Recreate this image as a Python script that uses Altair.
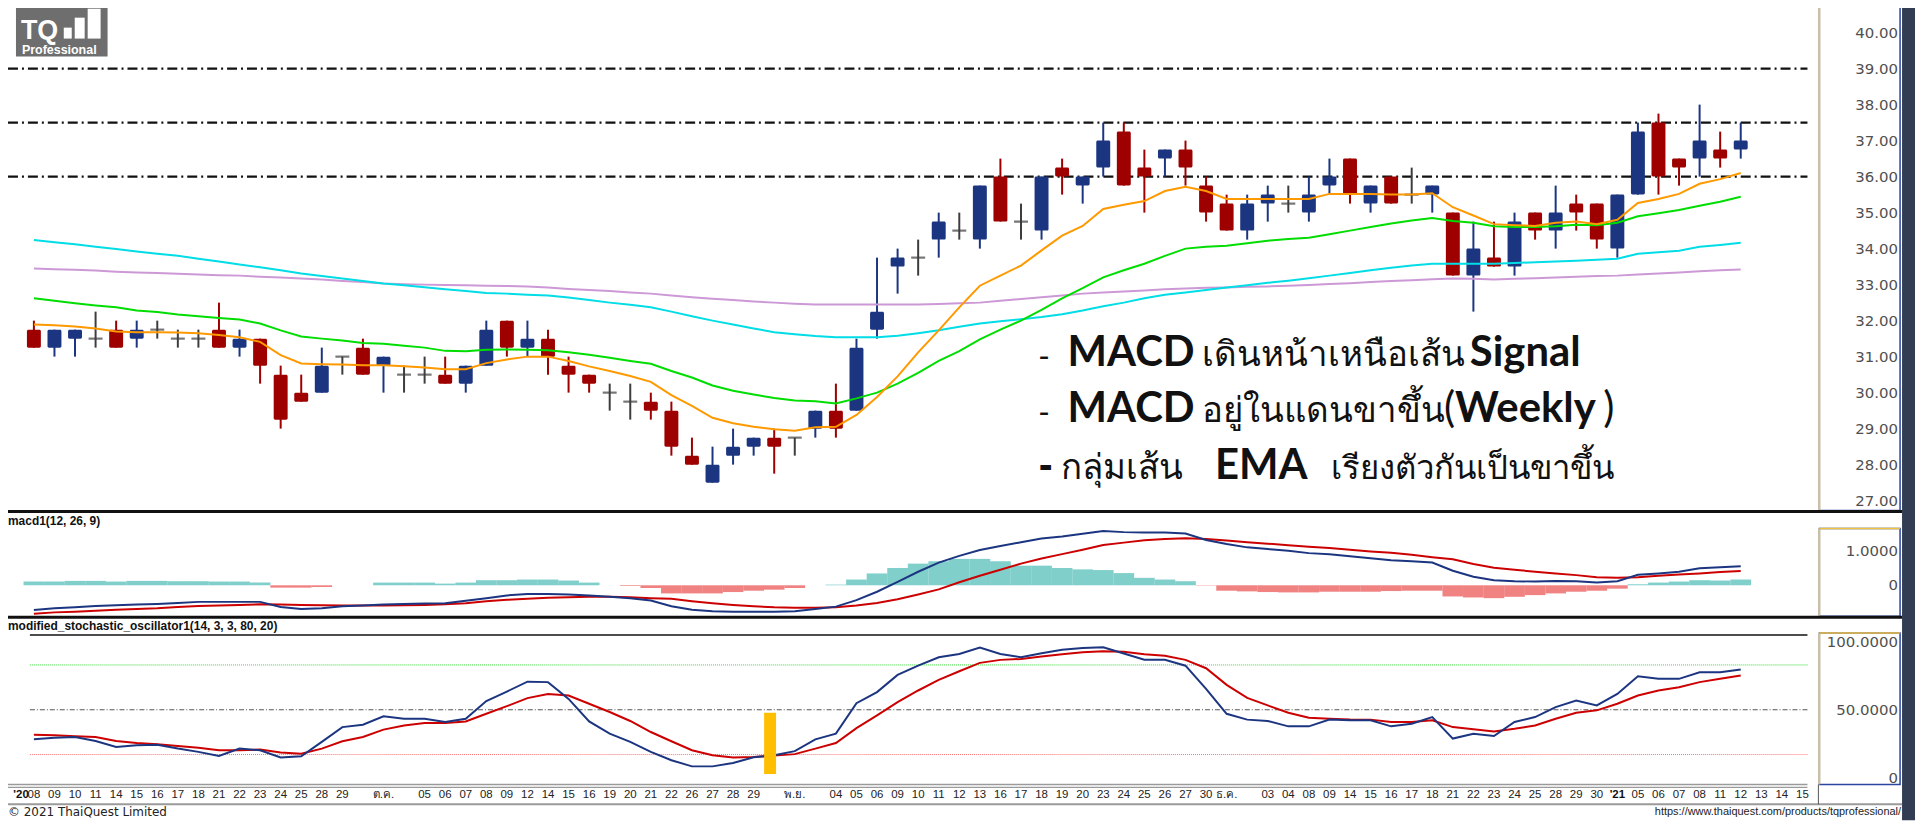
import altair as alt
import pandas as pd

# ---------------- data ----------------
OPEN = [31.75, 31.25, 31.5, 31.5, 31.75, 31.5, 31.75, 31.5, 31.5, 31.75, 31.25, 31.5, 30.5, 30.0, 30.0, 31.0,
        31.25, 30.75, 30.5, 30.5, 30.5, 30.25, 30.75, 32.0, 31.25, 31.5, 30.75, 30.5, 30.0, 29.75, 29.75, 29.5,
        28.25, 27.5, 28.25, 28.5, 28.75, 28.75, 29.0, 29.5, 29.5, 31.75, 33.5, 33.75, 34.25, 34.5, 34.25, 36.0,
        34.75, 34.5, 36.25, 35.75, 36.25, 37.25, 36.25, 36.5, 36.75, 35.75, 35.25, 34.5, 35.25, 35.25, 35.0, 35.75,
        36.5, 35.25, 36.0, 35.5, 35.5, 35.0, 33.25, 33.75, 33.5, 35.0, 34.5, 35.25, 35.25, 34.0, 35.5, 37.5,
        36.5, 36.5, 36.75, 36.75]
HIGH = [32.0, 31.75, 31.75, 32.25, 32.0, 32.0, 32.0, 31.75, 31.75, 32.5, 31.75, 31.5, 30.75, 30.5, 31.25, 31.0,
        31.5, 31.0, 30.75, 31.0, 31.0, 30.75, 32.0, 32.0, 32.0, 31.75, 31.0, 30.5, 30.25, 30.25, 30.0, 29.75,
        28.75, 28.5, 29.0, 28.75, 29.0, 28.75, 29.5, 30.25, 31.5, 33.75, 34.0, 34.25, 35.0, 35.0, 35.75, 36.5,
        35.25, 36.0, 36.5, 36.0, 37.5, 37.5, 36.75, 36.75, 37.0, 36.0, 35.5, 35.5, 35.75, 35.75, 36.0, 36.5,
        36.5, 35.75, 36.0, 36.25, 35.75, 35.0, 34.75, 34.75, 35.0, 35.0, 35.75, 35.5, 35.25, 35.5, 37.5, 37.75,
        36.5, 38.0, 37.25, 37.5]
LOW = [31.25, 31.0, 31.0, 31.25, 31.25, 31.25, 31.5, 31.25, 31.25, 31.25, 31.0, 30.25, 29.0, 29.75, 30.0, 30.5,
       30.5, 30.0, 30.0, 30.25, 30.25, 30.0, 30.75, 31.0, 31.0, 30.5, 30.0, 30.0, 29.5, 29.25, 29.25, 28.25,
       28.0, 27.5, 28.0, 28.25, 27.75, 28.25, 28.75, 28.75, 29.5, 31.5, 32.75, 33.25, 33.75, 34.25, 34.0, 34.75,
       34.25, 34.25, 35.5, 35.25, 36.0, 35.75, 35.0, 36.0, 35.75, 34.75, 34.5, 34.25, 34.75, 35.0, 34.75, 35.5,
       35.25, 35.0, 35.25, 35.25, 35.0, 33.25, 32.25, 33.5, 33.25, 34.25, 34.0, 34.5, 34.0, 33.75, 35.5, 35.5,
       35.75, 36.0, 36.25, 36.5]
CLOSE = [31.25, 31.75, 31.75, 31.5, 31.25, 31.75, 31.75, 31.5, 31.5, 31.25, 31.5, 30.75, 29.25, 29.75, 30.75, 31.0,
         30.5, 31.0, 30.5, 30.5, 30.25, 30.75, 31.75, 31.25, 31.5, 31.0, 30.5, 30.25, 30.0, 29.75, 29.5, 28.5,
         28.0, 28.0, 28.5, 28.75, 28.5, 28.75, 29.5, 29.0, 31.25, 32.25, 33.75, 33.75, 34.75, 34.5, 35.75, 34.75,
         34.75, 36.0, 36.0, 36.0, 37.0, 35.75, 36.0, 36.75, 36.25, 35.0, 34.5, 35.25, 35.5, 35.25, 35.5, 36.0,
         35.5, 35.75, 35.25, 35.5, 35.75, 33.25, 34.0, 33.5, 34.75, 34.5, 35.0, 35.0, 34.25, 35.5, 37.25, 36.0,
         36.25, 37.0, 36.5, 37.0]

EMA_FAST = [31.89, 31.87, 31.84, 31.78, 31.70, 31.68, 31.68, 31.67, 31.65, 31.60, 31.54, 31.41, 31.04, 30.81,
            30.79, 30.78, 30.76, 30.76, 30.73, 30.70, 30.65, 30.65, 30.82, 30.92, 31.0, 31.0, 30.88, 30.73, 30.6,
            30.46, 30.3, 29.93, 29.63, 29.3, 29.15, 29.05, 28.98, 28.94, 29.04, 29.05, 29.38, 29.88, 30.45, 31.12,
            31.73, 32.37, 32.97, 33.25, 33.53, 33.95, 34.36, 34.63, 35.10, 35.22, 35.32, 35.60, 35.72, 35.60,
            35.38, 35.38, 35.38, 35.38, 35.38, 35.52, 35.52, 35.52, 35.50, 35.50, 35.54, 35.15, 34.92, 34.68,
            34.65, 34.63, 34.72, 34.75, 34.68, 34.80, 35.27, 35.38, 35.52, 35.80, 35.93, 36.10]
EMA_MID = [32.62, 32.55, 32.48, 32.42, 32.37, 32.28, 32.24, 32.17, 32.12, 32.07, 32.03, 31.92, 31.73, 31.56, 31.5,
           31.45, 31.38, 31.36, 31.3, 31.25, 31.16, 31.15, 31.19, 31.2, 31.19, 31.18, 31.12, 31.05, 30.97, 30.88,
           30.8, 30.6, 30.42, 30.2, 30.05, 29.95, 29.85, 29.78, 29.76, 29.7, 29.84, 30.0, 30.25, 30.55, 30.88,
           31.15, 31.48, 31.75, 32.0, 32.3, 32.62, 32.9, 33.2, 33.4, 33.58, 33.8, 34.0, 34.05, 34.08, 34.15, 34.22,
           34.27, 34.3, 34.4, 34.5, 34.6, 34.7, 34.78, 34.85, 34.77, 34.72, 34.62, 34.6, 34.6, 34.62, 34.66, 34.65,
           34.72, 34.9, 34.98, 35.07, 35.19, 35.3, 35.44]
EMA_SLOW = [34.24, 34.18, 34.12, 34.05, 33.99, 33.92, 33.86, 33.80, 33.72, 33.64, 33.56, 33.48, 33.40, 33.31,
            33.24, 33.17, 33.10, 33.03, 32.98, 32.93, 32.87, 32.82, 32.77, 32.75, 32.72, 32.70, 32.64, 32.57,
            32.50, 32.44, 32.37, 32.25, 32.12, 32.00, 31.89, 31.78, 31.68, 31.62, 31.57, 31.54, 31.54, 31.54,
            31.58, 31.65, 31.73, 31.83, 31.92, 31.98, 32.04, 32.10, 32.18, 32.28, 32.40, 32.50, 32.62, 32.72,
            32.78, 32.85, 32.92, 32.98, 33.05, 33.11, 33.18, 33.25, 33.32, 33.40, 33.47, 33.53, 33.58, 33.58,
            33.58, 33.58, 33.60, 33.62, 33.64, 33.66, 33.69, 33.72, 33.86, 33.90, 33.94, 34.05, 34.10, 34.16]
EMA_LONG = [33.45, 33.43, 33.41, 33.39, 33.36, 33.34, 33.32, 33.30, 33.28, 33.26, 33.25, 33.22, 33.20, 33.17,
            33.14, 33.10, 33.07, 33.03, 33.01, 33.00, 32.99, 32.98, 32.97, 32.96, 32.95, 32.92, 32.88, 32.85,
            32.82, 32.78, 32.75, 32.70, 32.65, 32.61, 32.57, 32.53, 32.50, 32.47, 32.45, 32.45, 32.45, 32.45,
            32.45, 32.45, 32.46, 32.48, 32.50, 32.55, 32.60, 32.65, 32.70, 32.75, 32.78, 32.81, 32.84, 32.87,
            32.89, 32.91, 32.92, 32.94, 32.95, 32.97, 32.99, 33.02, 33.04, 33.07, 33.10, 33.12, 33.15, 33.17,
            33.16, 33.14, 33.16, 33.18, 33.20, 33.22, 33.24, 33.25, 33.28, 33.31, 33.34, 33.37, 33.40, 33.42]

MACD = [-0.73, -0.68, -0.65, -0.61, -0.59, -0.57, -0.55, -0.52, -0.49, -0.49, -0.49, -0.49, -0.64, -0.70, -0.68,
        -0.62, -0.60, -0.57, -0.55, -0.54, -0.53, -0.46, -0.38, -0.30, -0.26, -0.26, -0.27, -0.30, -0.34, -0.38,
        -0.45, -0.62, -0.72, -0.77, -0.78, -0.78, -0.78, -0.77, -0.70, -0.63, -0.44, -0.19, 0.10, 0.40, 0.67,
        0.87, 1.04, 1.16, 1.27, 1.38, 1.44, 1.52, 1.60, 1.57, 1.56, 1.56, 1.53, 1.34, 1.22, 1.12, 1.07, 1.02,
        0.95, 0.92, 0.86, 0.80, 0.74, 0.71, 0.67, 0.43, 0.25, 0.15, 0.12, 0.11, 0.13, 0.12, 0.08, 0.12, 0.31,
        0.35, 0.40, 0.50, 0.53, 0.56]
SIGNAL = [-0.84, -0.80, -0.78, -0.75, -0.72, -0.70, -0.68, -0.64, -0.61, -0.60, -0.58, -0.56, -0.57, -0.58, -0.59,
          -0.60, -0.60, -0.60, -0.59, -0.58, -0.56, -0.53, -0.47, -0.43, -0.40, -0.37, -0.35, -0.34, -0.34, -0.35,
          -0.38, -0.40, -0.47, -0.53, -0.58, -0.62, -0.65, -0.66, -0.66, -0.65, -0.60, -0.52, -0.41, -0.27, -0.12,
          0.09, 0.28, 0.46, 0.64, 0.79, 0.92, 1.05, 1.19, 1.26, 1.33, 1.37, 1.39, 1.37, 1.32, 1.27, 1.23, 1.18,
          1.14, 1.10, 1.05, 1.00, 0.96, 0.90, 0.83, 0.77, 0.63, 0.52, 0.46, 0.40, 0.35, 0.30, 0.24, 0.22, 0.24,
          0.28, 0.32, 0.35, 0.39, 0.42]
HIST = [0.11, 0.11, 0.13, 0.13, 0.11, 0.13, 0.13, 0.12, 0.12, 0.11, 0.11, 0.08, -0.07, -0.07, -0.05, 0.0, 0.0,
        0.08, 0.08, 0.08, 0.05, 0.08, 0.15, 0.15, 0.17, 0.17, 0.14, 0.08, 0.0, -0.02, -0.08, -0.24, -0.24, -0.24,
        -0.20, -0.16, -0.13, -0.08, 0.0, 0.02, 0.17, 0.35, 0.51, 0.64, 0.71, 0.78, 0.78, 0.71, 0.58, 0.58, 0.51,
        0.47, 0.45, 0.36, 0.22, 0.17, 0.12, -0.01, -0.16, -0.18, -0.20, -0.21, -0.21, -0.19, -0.19, -0.19, -0.17,
        -0.16, -0.16, -0.33, -0.36, -0.38, -0.34, -0.29, -0.24, -0.19, -0.16, -0.10, 0.03, 0.08, 0.11, 0.15,
        0.14, 0.17]

STOCH_K = [30.2, 31.3, 31.8, 29.1, 25.1, 26.2, 26.6, 24.0, 21.8, 19.1, 24.0, 22.9, 18.0, 18.9, 28.5, 38.4, 40.0,
           45.6, 44.0, 44.0, 41.8, 44.0, 55.8, 62.2, 68.8, 68.5, 57.3, 42.2, 34.0, 28.5, 21.8, 16.2, 12.1, 12.1,
           14.4, 18.2, 19.5, 22.3, 30.2, 34.0, 54.4, 61.8, 73.3, 79.5, 85.1, 87.3, 91.6, 87.3, 85.1, 87.9, 90.2,
           91.3, 91.8, 87.7, 83.5, 83.5, 79.5, 64.0, 47.3, 43.4, 42.5, 38.9, 38.9, 43.4, 42.9, 42.9, 38.9, 40.6,
           45.1, 30.7, 34.0, 32.4, 41.8, 45.1, 51.8, 56.2, 52.9, 60.6, 72.4, 70.7, 70.7, 75.1, 75.1, 76.9]
STOCH_D = [33.3, 32.9, 32.2, 31.8, 29.1, 27.7, 26.9, 25.7, 24.6, 22.9, 22.9, 23.4, 21.4, 20.6, 24.0, 28.9, 31.8,
           36.7, 39.5, 41.1, 41.1, 42.2, 47.3, 52.4, 57.8, 60.6, 59.5, 54.0, 48.5, 42.5, 35.1, 28.9, 22.9, 19.5,
           18.0, 18.4, 19.3, 20.3, 24.0, 27.7, 37.7, 46.2, 55.1, 62.9, 70.0, 75.8, 81.4, 83.4, 84.0, 85.6, 87.1,
           88.5, 89.1, 88.9, 87.1, 86.2, 83.4, 77.8, 66.7, 58.0, 52.9, 48.0, 44.7, 44.0, 43.5, 43.4, 41.8, 41.8,
           42.9, 38.4, 36.9, 35.5, 37.3, 39.5, 44.0, 48.0, 49.6, 54.0, 59.5, 62.9, 65.1, 68.5, 70.7, 73.0]

# x-axis labels, one per slot starting at slot -1
SLOT_START = -1
DAY_LABELS = ["'20", "08", "09", "10", "11", "14", "15", "16", "17", "18", "21", "22", "23", "24", "25", "28", "29",
              "", "ต.ค.", "", "05", "06", "07", "08", "09", "12", "14", "15", "16", "19", "20", "21", "22", "26",
              "27", "28", "29", "", "พ.ย.", "", "04", "05", "06", "09", "10", "11", "12", "13", "16", "17", "18",
              "19", "20", "23", "24", "25", "26", "27", "30", "ธ.ค.", "", "03", "04", "08", "09", "14", "15", "16",
              "17", "18", "21", "22", "23", "24", "25", "28", "29", "30", "'21", "05", "06", "07", "08", "11", "12",
              "13", "14", "15"]
BOLD_LABELS = ["'20", "'21"]

PRICE_TICKS = [27.0, 28.0, 29.0, 30.0, 31.0, 32.0, 33.0, 34.0, 35.0, 36.0, 37.0, 38.0, 39.0, 40.0]
PRICE_LEVELS = [39.0, 37.5, 36.0]
MACD_TICKS = [0.0, 1.0]
MACD_TICK_LABELS = ["0", "1.0000"]
STOCH_TICKS = [0, 50, 100]
STOCH_TICK_LABELS = ["0", "50.0000", "100.0000"]
STOCH_LEVELS = [80, 50, 20]
SIGNAL_BAR_POS = [35.8]
SIGNAL_BAR_LOW = [7]
SIGNAL_BAR_HIGH = [48]

# ---------------- styling ----------------
RED = "#9e0000"
BLUE = "#1c3580"
GRAY = "#3d3d3d"
FONT = "Liberation Sans"
AXFONT = "DejaVu Sans"
THAI_FONT = "Lato, 'Noto Sans', sans-serif"

N = len(OPEN)
idx = list(range(N))

XS = alt.Scale(domain=[0, 83], range=[29, 1753], nice=False, zero=False)
PRICE = dict(domain=[27, 40], range=[501, 31], nice=False, zero=False)
MACDS = dict(domain=[0, 1], range=[586, 552], nice=False, zero=False)
STOCH = dict(domain=[0, 100], range=[786, 636], nice=False, zero=False)


def X(field="i"):
    return alt.X(f"{field}:Q", scale=XS, axis=None)


def Y(field, sc):
    return alt.Y(f"{field}:Q", scale=alt.Scale(**sc), axis=None)


ONE = pd.DataFrame({"k": [0]})


def px_rect(x1, x2, y1, y2, **kw):
    return alt.Chart(ONE).mark_rect(**kw).encode(
        x=alt.value(x1), x2=alt.value(x2), y=alt.value(y1), y2=alt.value(y2))


def px_rule(x1, x2, y1, y2, **kw):
    return alt.Chart(ONE).mark_rule(**kw).encode(
        x=alt.value(x1), x2=alt.value(x2), y=alt.value(y1), y2=alt.value(y2))


def px_text(text, x, y, **kw):
    return alt.Chart(ONE).mark_text(text=text, **kw).encode(x=alt.value(x), y=alt.value(y))


layers = []

# ---------- frames / decoration ----------
layers.append(px_rect(1910, 1923, 0, 822, color="#323c52"))
for (y1, y2) in [(2, 511), (529, 617), (634, 786)]:
    layers.append(px_rect(1827, 1908, y1, y2, fill="white", stroke="#2b46a0", strokeWidth=1.5))
    layers.append(px_rule(1827, 1827, y1, y2, color="#f0c040", strokeWidth=1.5))
    layers.append(px_rule(1827, 1908, y1, y1, color="#f0c040", strokeWidth=1.5))
layers.append(px_rule(0, 1910, 512, 512, color="#111111", strokeWidth=3))
layers.append(px_rule(0, 1910, 618, 618, color="#111111", strokeWidth=3))
layers.append(px_rule(30, 1815, 636, 636, color="#111111", strokeWidth=1.5))
layers.append(px_rule(0, 1815, 786, 786, color="#9a9a9a", strokeWidth=1.5))
layers.append(px_rule(0, 1815, 789, 789, color="#9a9a9a", strokeWidth=1.2))
layers.append(px_rule(0, 1910, 806, 806, color="#9a9a9a", strokeWidth=2))
layers.append(px_rule(1826, 1826, 786, 806, color="#555555", strokeWidth=1))

# logo
layers.append(px_rect(16, 108, 1, 55, color="#6e6e6e"))
layers.append(px_text("TQ", 21, 37, font=FONT, fontSize=27, fontWeight="bold", color="white",
                      align="left", baseline="alphabetic"))
layers.append(px_rect(64, 72, 26, 37, color="white"))
layers.append(px_rect(75, 85, 16, 37, color="white"))
layers.append(px_rect(88, 101, 7, 37, color="white"))
layers.append(px_text("Professional", 22, 52, font=FONT, fontSize=12.5, fontWeight="bold", color="white",
                      align="left", baseline="alphabetic"))

# ---------- price panel ----------
cdf = pd.DataFrame({"i": idx, "o": OPEN, "h": HIGH, "l": LOW, "c": CLOSE})
cdf["kind"] = ["doji" if o == c else ("up" if c > o else "down") for o, c in zip(OPEN, CLOSE)]
cdf["top"] = [max(o, c) for o, c in zip(OPEN, CLOSE)]
cdf["bot"] = [min(o, c) for o, c in zip(OPEN, CLOSE)]
ccol = alt.Color("kind:N", scale=alt.Scale(domain=["up", "down", "doji"], range=[BLUE, RED, GRAY]), legend=None)

lvl = pd.DataFrame({"v": PRICE_LEVELS})
layers.append(alt.Chart(lvl).mark_rule(color="#111111", strokeWidth=2.2, strokeDash=[10, 4, 2, 4]).encode(
    y=Y("v", PRICE), x=alt.value(8), x2=alt.value(1815)))

layers.append(alt.Chart(cdf).mark_rule(strokeWidth=2).encode(x=X(), y=Y("l", PRICE), y2="h:Q", color=ccol))
layers.append(alt.Chart(cdf).transform_filter("datum.kind != 'doji'").mark_bar(size=14, cornerRadius=1.5).encode(
    x=X(), y=Y("top", PRICE), y2="bot:Q", color=ccol))
layers.append(alt.Chart(cdf).transform_filter("datum.kind == 'doji'").mark_tick(
    orient="horizontal", size=14, thickness=2.2, color=GRAY).encode(x=X(), y=Y("o", PRICE)))

for series, col in [(EMA_LONG, "#cc99d6"), (EMA_SLOW, "#00dde6"), (EMA_MID, "#00dd00"), (EMA_FAST, "#ff9900")]:
    d = pd.DataFrame({"i": idx, "v": series})
    layers.append(alt.Chart(d).mark_line(color=col, strokeWidth=2).encode(x=X(), y=Y("v", PRICE)))

pt = pd.DataFrame({"v": PRICE_TICKS, "t": [f"{v:.2f}" for v in PRICE_TICKS]})
layers.append(alt.Chart(pt).mark_text(font=AXFONT, fontSize=15, color="#505050", align="right",
                                      baseline="middle").encode(y=Y("v", PRICE), x=alt.value(1906), text="t:N"))

# annotation text
BIG = 42
TH = 35
ann = [
    ("-", 1043, 366, "normal", FONT, 32, TH),
    ("MACD", 1072, 366, "bold", "Lato", BIG, TH),
    ("เดินหน้าเหนือเส้น", 1207, 366, "normal", THAI_FONT, TH, TH),
    ("Signal", 1476, 366, "bold", "Lato", BIG, TH),
    ("-", 1043, 422, "normal", FONT, 32, TH),
    ("MACD", 1072, 422, "bold", "Lato", BIG, TH),
    ("อยู่ในแดนขาขึ้น", 1207, 422, "normal", THAI_FONT, TH, TH),
    ("(", 1450, 422, "normal", "Lato", BIG, TH),
    ("Weekly", 1461, 422, "bold", "Lato", BIG, TH),
    (")", 1610, 422, "normal", "Lato", BIG, TH),
    ("-", 1043, 479, "bold", FONT, BIG, TH),
    ("กลุ่มเส้น", 1065, 479, "normal", THAI_FONT, TH, TH),
    ("EMA", 1220, 479, "bold", "Lato", BIG, TH),
    ("เรียงตัวกันเป็นขาขึ้น", 1337, 479, "normal", THAI_FONT, 33, TH),
]
for t, x, y, w, f, s, _ in ann:
    layers.append(px_text(t, x, y, font=f, fontSize=s, fontWeight=w, color="#111111",
                          align="left", baseline="alphabetic"))

# ---------- MACD panel ----------
hdf = pd.DataFrame({"i": idx, "h": HIST})
hdf["s"] = ["pos" if v >= 0 else "neg" for v in HIST]
layers.append(alt.Chart(hdf).mark_bar(size=20.8).encode(
    x=X(), y=Y("h", MACDS), y2=alt.datum(0),
    color=alt.Color("s:N", scale=alt.Scale(domain=["pos", "neg"], range=["#80cfcb", "#f08282"]), legend=None)))
layers.append(alt.Chart(pd.DataFrame({"i": idx, "v": SIGNAL})).mark_line(color="#cc0000", strokeWidth=2).encode(
    x=X(), y=Y("v", MACDS)))
layers.append(alt.Chart(pd.DataFrame({"i": idx, "v": MACD})).mark_line(color=BLUE, strokeWidth=2).encode(
    x=X(), y=Y("v", MACDS)))
mt = pd.DataFrame({"v": MACD_TICKS, "t": MACD_TICK_LABELS})
layers.append(alt.Chart(mt).mark_text(font=AXFONT, fontSize=15, color="#505050", align="right",
                                      baseline="middle").encode(y=Y("v", MACDS), x=alt.value(1906), text="t:N"))
layers.append(px_text("macd1(12, 26, 9)", 8, 521, font=FONT, fontSize=12, fontWeight="bold", color="#111111",
                      align="left", baseline="middle"))

# ---------- stochastic panel ----------
sl = pd.DataFrame({"v": STOCH_LEVELS, "k": ["ob", "mid", "os"]})
layers.append(alt.Chart(sl).transform_filter("datum.k == 'ob'").mark_rule(
    color="#33dd33", strokeWidth=1, strokeDash=[1, 1]).encode(y=Y("v", STOCH), x=alt.value(30), x2=alt.value(1815)))
layers.append(alt.Chart(sl).transform_filter("datum.k == 'mid'").mark_rule(
    color="#555555", strokeWidth=1, strokeDash=[5, 2, 1, 2]).encode(y=Y("v", STOCH), x=alt.value(30), x2=alt.value(1815)))
layers.append(alt.Chart(sl).transform_filter("datum.k == 'os'").mark_rule(
    color="#ff7070", strokeWidth=1, strokeDash=[1, 1]).encode(y=Y("v", STOCH), x=alt.value(30), x2=alt.value(1815)))
layers.append(alt.Chart(pd.DataFrame({"i": idx, "v": STOCH_D})).mark_line(color="#cc0000", strokeWidth=2).encode(
    x=X(), y=Y("v", STOCH)))
layers.append(alt.Chart(pd.DataFrame({"i": idx, "v": STOCH_K})).mark_line(color=BLUE, strokeWidth=2).encode(
    x=X(), y=Y("v", STOCH)))
sb = pd.DataFrame({"i": SIGNAL_BAR_POS, "lo": SIGNAL_BAR_LOW, "hi": SIGNAL_BAR_HIGH})
layers.append(alt.Chart(sb).mark_bar(size=12, color="#ffbf00").encode(x=X(), y=Y("lo", STOCH), y2="hi:Q"))
st = pd.DataFrame({"v": STOCH_TICKS, "t": STOCH_TICK_LABELS})
for v, dy in [(0, -6), (50, 0), (100, 7)]:
    layers.append(alt.Chart(st).transform_filter(f"datum.v == {v}").mark_text(
        font=AXFONT, fontSize=15, color="#505050", align="right", baseline="middle", dy=dy).encode(
        y=Y("v", STOCH), x=alt.value(1906), text="t:N"))
layers.append(px_text("modified_stochastic_oscillator1(14, 3, 3, 80, 20)", 8, 627, font=FONT, fontSize=12,
                      fontWeight="bold", color="#111111", align="left", baseline="middle"))

# ---------- x labels ----------
ldf = pd.DataFrame({"i": [SLOT_START + k for k in range(len(DAY_LABELS))], "t": DAY_LABELS})
ldf = ldf[ldf["t"] != ""]
normal = ldf[~ldf["t"].isin(BOLD_LABELS)]
bold = ldf[ldf["t"].isin(BOLD_LABELS)]
layers.append(alt.Chart(normal).mark_text(font=FONT, fontSize=11.5, color="#222222", baseline="middle").encode(
    x=X(), y=alt.value(797), text="t:N"))
layers.append(alt.Chart(bold.iloc[1:]).mark_text(font=FONT, fontSize=11.5, fontWeight="bold", color="#111111",
                                                 baseline="middle").encode(x=X(), y=alt.value(797), text="t:N"))
layers.append(alt.Chart(bold.iloc[:1]).mark_text(font=FONT, fontSize=11.5, fontWeight="bold", color="#111111",
                                                 align="left", baseline="middle").encode(
    x=X(), y=alt.value(797), text="t:N"))

# footer
layers.append(px_text("© 2021 ThaiQuest Limited", 8, 814, font=AXFONT, fontSize=12, color="#222222",
                      align="left", baseline="middle"))
layers.append(px_text("https://www.thaiquest.com/products/tqprofessional/", 1909, 814, font=FONT, fontSize=11,
                      color="#222222", align="right", baseline="middle"))

chart = alt.layer(*layers).resolve_scale(y="independent", color="independent").properties(
    width=1923, height=822, autosize="none",
    padding={"left": -8, "top": -8, "right": 0, "bottom": 0},
).configure_view(strokeWidth=0)

chart.save("out.html", embed_options={"renderer": "svg", "actions": False})
